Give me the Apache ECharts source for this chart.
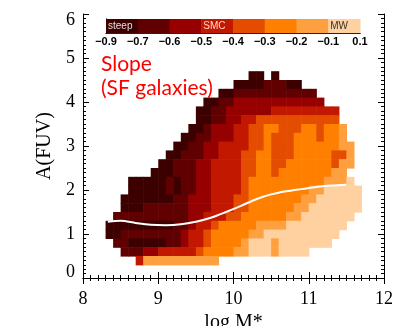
<!DOCTYPE html>
<html>
<head>
<meta charset="utf-8">
<script src="https://cdn.jsdelivr.net/npm/echarts@6/dist/echarts.min.js"></script>
<style>
  html, body { margin: 0; padding: 0; background: #fff; }
  #chart { width: 397px; height: 326px; }
</style>
</head>
<body>
<div id="chart"></div>
<script>
// colour bar: slope band edges, labels and colours
const bandEdges = [-0.9, -0.7, -0.6, -0.5, -0.4, -0.3, -0.2, -0.1, 0.1];
const bandLabels = ['−0.9', '−0.7', '−0.6', '−0.5', '−0.4', '−0.3', '−0.2', '−0.1', '0.1'];
const bandNames = ['steep', '', '', 'SMC', '', '', '', 'MW'];
const bandColors = ['#3c0000', '#600000', '#960000', '#c21800', '#e44c00', '#ff7f00', '#ffa040', '#ffd0a0'];

// slope band index per cell, '.' = no galaxies
// rows: A(FUV) = 4.6 down to 0.4 (step 0.2); columns: log M* = 8.35 .. 11.65 (step 0.1)
const massStart = 8.35, massStep = 0.1;
const afuvTop = 4.6, afuvStep = 0.2;
const slopeRows = [
  '...................00.0...........',
  '.................000011100........',
  '...............0011111111111......',
  '.............0011222222222222.....',
  '............0011222222333333333...',
  '............0011223344444444444...',
  '...........001222334455444554556..',
  '..........0011222334454445554556..',
  '.........001122333344544455555566.',
  '........0011122333445544455555446.',
  '.......00111223333445544555555466.',
  '......00011122333344554555555566..',
  '...000001011223333455555555556667.',
  '...0000010112233334555555556677777',
  '..00000001122233344555555566777777',
  '..00011111122233344555555667777777',
  '.11111111112233344555555667777777.',
  '00000000011233455555666677777777..',
  '0011111111233455555667777777777...',
  '.11000001123345555677767777777....',
  '..1112233333455556677767777.......',
  '....36666666666...................'
];

// white curve: typical A(FUV) vs mass
const lineMass = [8.33, 8.5, 8.7, 8.9, 9.1, 9.3, 9.5, 9.7, 9.9, 10.1, 10.3, 10.5, 10.7, 10.9, 11.1, 11.3, 11.5];
const lineAfuv = [1.28, 1.30, 1.25, 1.21, 1.20, 1.22, 1.28, 1.37, 1.50, 1.64, 1.79, 1.90, 1.97, 2.02, 2.07, 2.10, 2.12];

const midSlope = k => (bandEdges[k] + bandEdges[k + 1]) / 2;

let cells = [];
slopeRows.forEach((row, r) => {
  row.split('').forEach((ch, c) => {
    if (ch === '.') return;
    cells.push([+(massStart + c * massStep).toFixed(2), +(afuvTop - r * afuvStep).toFixed(2), midSlope(+ch)]);
  });
});

// colour bar segments: [index, 0, slope]
const barData = bandNames.map((name, k) => [k, 0, midSlope(k)]);
const barTextColor = { steep: '#e8dcdc', SMC: '#ffd8d0', MW: '#333' };

const serif = 'Liberation Serif';
const sans = 'Liberation Sans';

const chart = echarts.init(document.getElementById('chart'));

const tickLabel = {
  fontFamily: serif, fontSize: 18, color: '#000'
};

chart.setOption({
  animation: false,
  backgroundColor: '#fff',
  grid: [
    { left: 83, top: 14, width: 301, height: 264, outerBoundsMode: 'none' },
    { left: 106, top: 19, width: 254, height: 14, outerBoundsMode: 'none' }
  ],
  xAxis: [
    {
      gridIndex: 0, type: 'value', min: 8, max: 12, interval: 1, position: 'bottom',
      axisLine: { lineStyle: { color: '#000', width: 1 } },
      axisTick: { inside: true, length: 6, lineStyle: { color: '#000' } },
      minorTick: { show: true, splitNumber: 10, length: 3, lineStyle: { color: '#000' } },
      splitLine: { show: false },
      axisLabel: Object.assign({ margin: 12 }, tickLabel),
      name: 'log M*', nameLocation: 'middle', nameGap: 32,
      nameTextStyle: { fontFamily: serif, fontSize: 20, color: '#000' }
    },
    {
      gridIndex: 0, type: 'value', min: 8, max: 12, interval: 1, position: 'top',
      axisLine: { lineStyle: { color: '#000', width: 1 } },
      axisTick: { inside: true, length: 6, lineStyle: { color: '#000' } },
      minorTick: { show: true, splitNumber: 10, length: 3, lineStyle: { color: '#000' } },
      splitLine: { show: false },
      axisLabel: { show: false }
    },
    {
      gridIndex: 1, type: 'value', min: 0, max: 8, interval: 1, position: 'bottom',
      axisLine: { lineStyle: { color: '#222', width: 1 } },
      axisTick: { show: false },
      splitLine: { show: false },
      axisLabel: {
        margin: 3, fontFamily: sans, fontSize: 11, fontWeight: 'bold', color: '#000',
        showMinLabel: true, showMaxLabel: true,
        formatter: v => bandLabels[v]
      }
    },
    {
      gridIndex: 1, type: 'value', min: 0, max: 8, position: 'top',
      axisLine: { lineStyle: { color: '#222', width: 1 } },
      axisTick: { show: false }, axisLabel: { show: false }, splitLine: { show: false }
    }
  ],
  yAxis: [
    {
      gridIndex: 0, type: 'value', min: 0, max: 6, interval: 1, position: 'left',
      axisLine: { show: true, lineStyle: { color: '#000', width: 1 } },
      axisTick: { show: true, inside: true, length: 6, lineStyle: { color: '#000' } },
      minorTick: { show: true, splitNumber: 10, length: 3, lineStyle: { color: '#000' } },
      splitLine: { show: false },
      axisLabel: Object.assign({
        margin: 8,
        formatter: v => v === 0 ? '{lo|0}' : v === 6 ? '{hi|6}' : String(v),
        rich: {
          lo: { fontFamily: serif, fontSize: 18, color: '#000', padding: [0, 0, 11, 0] },
          hi: { fontFamily: serif, fontSize: 18, color: '#000', padding: [13, 0, 0, 0] }
        }
      }, tickLabel),
      name: 'A(FUV)', nameLocation: 'middle', nameGap: 28,
      nameTextStyle: { fontFamily: serif, fontSize: 20, color: '#000' }
    },
    {
      gridIndex: 0, type: 'value', min: 0, max: 6, interval: 1, position: 'right',
      axisLine: { show: true, lineStyle: { color: '#000', width: 1 } },
      axisTick: { show: true, inside: true, length: 6, lineStyle: { color: '#000' } },
      minorTick: { show: true, splitNumber: 10, length: 3, lineStyle: { color: '#000' } },
      splitLine: { show: false },
      axisLabel: { show: false }
    },
    {
      gridIndex: 1, type: 'value', min: 0, max: 1, position: 'left',
      axisLine: { show: true, lineStyle: { color: '#222', width: 1 } },
      axisTick: { show: false }, axisLabel: { show: false }, splitLine: { show: false }
    },
    {
      gridIndex: 1, type: 'value', min: 0, max: 1, position: 'right',
      axisLine: { show: true, lineStyle: { color: '#222', width: 1 } },
      axisTick: { show: false }, axisLabel: { show: false }, splitLine: { show: false }
    }
  ],
  visualMap: {
    type: 'piecewise', show: false, dimension: 2, seriesIndex: [0, 2],
    pieces: bandColors.map((color, k) => ({ gte: bandEdges[k], lt: bandEdges[k + 1], color }))
  },
  graphic: [
    {
      type: 'text', left: 101, top: 52, z: 10,
      style: {
        text: 'Slope\n(SF galaxies)', fill: '#ff0000',
        font: '21px Lato', lineHeight: 24
      }
    }
  ],
  series: [
    {
      type: 'custom', xAxisIndex: 0, yAxisIndex: 0, z: 1,
      data: cells,
      renderItem: (params, api) => {
        const m = api.value(0), a = api.value(1);
        const p0 = api.coord([m - massStep / 2, a + afuvStep / 2]);
        const p1 = api.coord([m + massStep / 2, a - afuvStep / 2]);
        return {
          type: 'rect',
          shape: { x: p0[0], y: p0[1], width: p1[0] - p0[0] + 0.6, height: p1[1] - p0[1] + 0.6 },
          style: { fill: api.visual('color') }
        };
      }
    },
    {
      type: 'line', xAxisIndex: 0, yAxisIndex: 0, z: 3,
      data: lineMass.map((m, i) => [m, lineAfuv[i]]),
      smooth: 0.3, showSymbol: false, symbol: 'none',
      lineStyle: { color: '#fff', width: 2 }
    },
    {
      type: 'custom', xAxisIndex: 2, yAxisIndex: 2, z: 1,
      data: barData,
      renderItem: (params, api) => {
        const k = api.value(0);
        const p0 = api.coord([k, 1]);
        const p1 = api.coord([k + 1, 0]);
        const name = bandNames[params.dataIndex];
        const children = [{
          type: 'rect',
          shape: { x: p0[0], y: p0[1], width: p1[0] - p0[0] + 0.5, height: p1[1] - p0[1] },
          style: { fill: api.visual('color') }
        }];
        if (name) {
          children.push({
            type: 'text',
            x: p0[0] + 2, y: (p0[1] + p1[1]) / 2,
            style: { text: name, fill: barTextColor[name], font: '10px ' + sans, verticalAlign: 'middle', align: 'left' }
          });
        }
        return { type: 'group', children };
      }
    }
  ]
});
</script>
</body>
</html>
